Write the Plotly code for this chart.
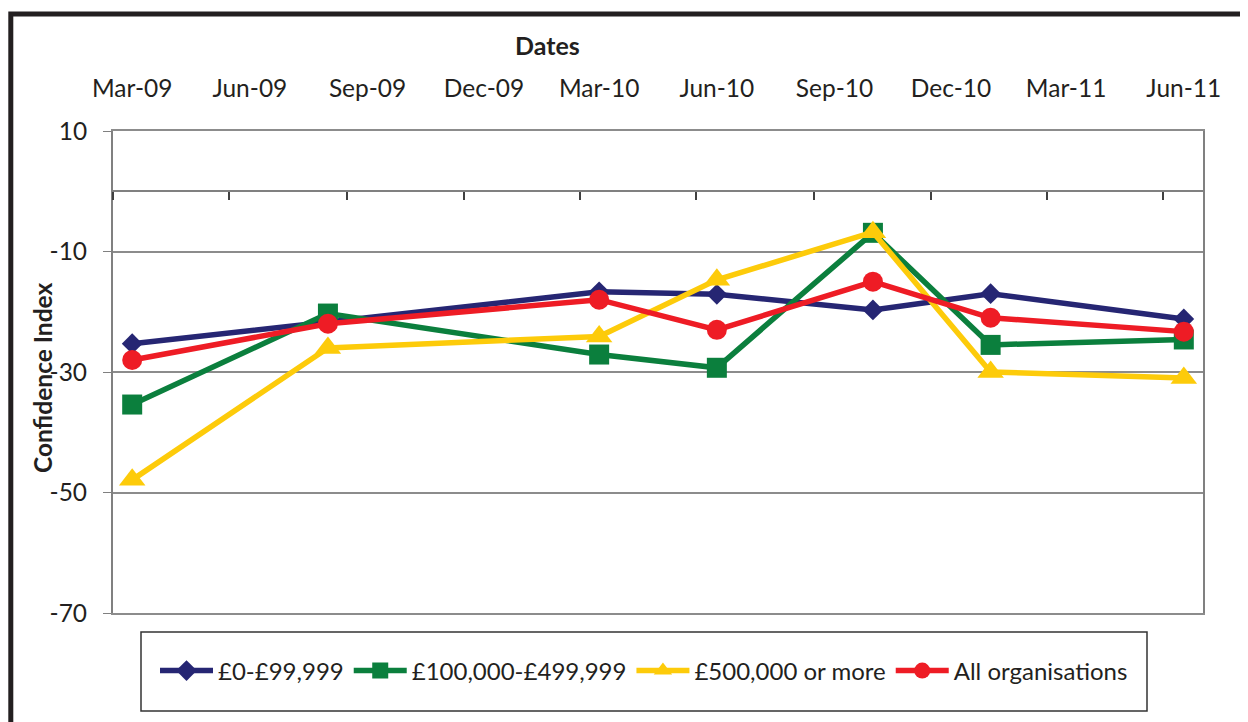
import plotly.graph_objects as go

# ---- data ----
dates = ["2009-03-01", "2009-08-01", "2010-03-01", "2010-06-01",
         "2010-10-01", "2011-01-01", "2011-06-01"]
band_small = [-25.3, -21.6, -16.7, -17.1, -19.7, -17.0, -21.2]
band_mid = [-35.4, -20.3, -27.1, -29.3, -6.9, -25.5, -24.6]
band_large = [-47.9, -26.0, -24.1, -14.7, -6.8, -30.0, -31.0]
band_all = [-28.0, -22.0, -18.0, -23.0, -15.0, -21.0, -23.3]
series_names = ["£0-£99,999", "£100,000-£499,999", "£500,000 or more", "All organisations"]

quarter_ticks = ["2009-03-01", "2009-06-01", "2009-09-01", "2009-12-01", "2010-03-01",
                 "2010-06-01", "2010-09-01", "2010-12-01", "2011-03-01", "2011-06-01"]
quarter_labels = ["Mar-09", "Jun-09", "Sep-09", "Dec-09", "Mar-10",
                  "Jun-10", "Sep-10", "Dec-10", "Mar-11", "Jun-11"]
minor_ticks = ["2009-02-14", "2009-05-16", "2009-08-16", "2009-11-15", "2010-02-14",
               "2010-05-16", "2010-08-16", "2010-11-15", "2011-02-14", "2011-05-16"]
x_range = ["2009-02-14", "2011-06-16"]
y_range = [-70, 10]
y_ticks = [10, -10, -30, -50, -70]
y_labels = ["10", "-10", "-30", "-50", "-70"]

colors = ["#262673", "#0b7f3d", "#fdcb0a", "#ee1c25"]
symbols = ["diamond", "square", "triangle-up", "circle"]
sizes = [16, 20, 23, 20]
TXT = "#231f20"
FONT = "Lato"

fig = go.Figure()
for vals, name, c, s, sz in zip([band_small, band_mid, band_large, band_all],
                                series_names, colors, symbols, sizes):
    fig.add_trace(go.Scatter(x=dates, y=vals, name=name, mode="lines+markers",
                             line=dict(color=c, width=5.5),
                             marker=dict(symbol=s, size=sz, color=c)))

# helper trace for the zero-crossing date axis
fig.add_trace(go.Scatter(x=dates, y=[None] * len(dates), xaxis="x2", showlegend=False,
                         hoverinfo="skip", mode="lines"))

OFF = 8  # browser body margin
W, H = 1248 - OFF, 722 - OFF
L, R, T, B = 113, 1203, 131, 613  # plot area in reference pixels
pw, ph = R - L, B - T

def px(x):
    return (x - L) / pw

def py(y):
    return (B - y) / ph

fig.update_layout(
    width=W, height=H,
    margin=dict(l=L - OFF, r=W - (R - OFF), t=T - OFF, b=H - (B - OFF), pad=0),
    paper_bgcolor="white", plot_bgcolor="white",
    font=dict(family=FONT, color=TXT, size=24),
    showlegend=True,
    legend=dict(orientation="h", x=px(644), xanchor="center", y=py(671), yanchor="middle",
                font=dict(family=FONT, size=24, color=TXT), bgcolor="rgba(0,0,0,0)",
                borderwidth=0, itemwidth=53),
    xaxis=dict(type="date", range=x_range, side="top", tickvals=quarter_ticks,
               ticktext=quarter_labels, ticks="outside", ticklen=0,
               ticklabelstandoff=22, showgrid=False, showline=True, mirror=True,
               linecolor="#8c8c8c", linewidth=1.5, zeroline=False,
               tickfont=dict(family=FONT, size=24.5, color=TXT)),
    xaxis2=dict(type="date", range=x_range, overlaying="x", anchor="free",
                position=(0 - y_range[0]) / (y_range[1] - y_range[0]), side="bottom",
                tickvals=minor_ticks, showticklabels=False, ticks="outside", ticklen=8,
                tickwidth=2, tickcolor="#404040",
                showline=True, linecolor="#808080", linewidth=2, showgrid=False,
                zeroline=False),
    yaxis=dict(range=y_range, tickvals=y_ticks, ticktext=y_labels, showgrid=True,
               gridcolor="#8c8c8c", gridwidth=1.5, zeroline=False, showline=True,
               linecolor="#808080", linewidth=2, mirror=True, ticks="outside", ticklen=8,
               tickcolor="#808080", ticklabelstandoff=11,
               tickfont=dict(family=FONT, size=24.5, color=TXT)),
)

# axis titles
fig.add_annotation(text="<b>Dates</b>", xref="paper", yref="paper", x=px(547), y=py(45),
                   xanchor="center", yanchor="middle", showarrow=False,
                   font=dict(family=FONT, size=25, color=TXT))
fig.add_annotation(text="<b>Confidence Index</b>", xref="paper", yref="paper", x=px(42),
                   y=py(378), xanchor="center", yanchor="middle", textangle=-90,
                   showarrow=False, font=dict(family=FONT, size=24.5, color=TXT))

# legend frame
fig.add_shape(type="rect", xref="paper", yref="paper", x0=px(141), x1=px(1147),
              y0=py(632), y1=py(711), line=dict(color="#333333", width=1.5),
              fillcolor="rgba(0,0,0,0)", layer="below")
# outer chart frame
fig.add_shape(type="rect", xref="paper", yref="paper", x0=px(10.8), x1=px(1270),
              y0=py(745), y1=py(14), line=dict(color=TXT, width=5),
              fillcolor="rgba(0,0,0,0)", layer="below")

fig.write_html("out.html")
